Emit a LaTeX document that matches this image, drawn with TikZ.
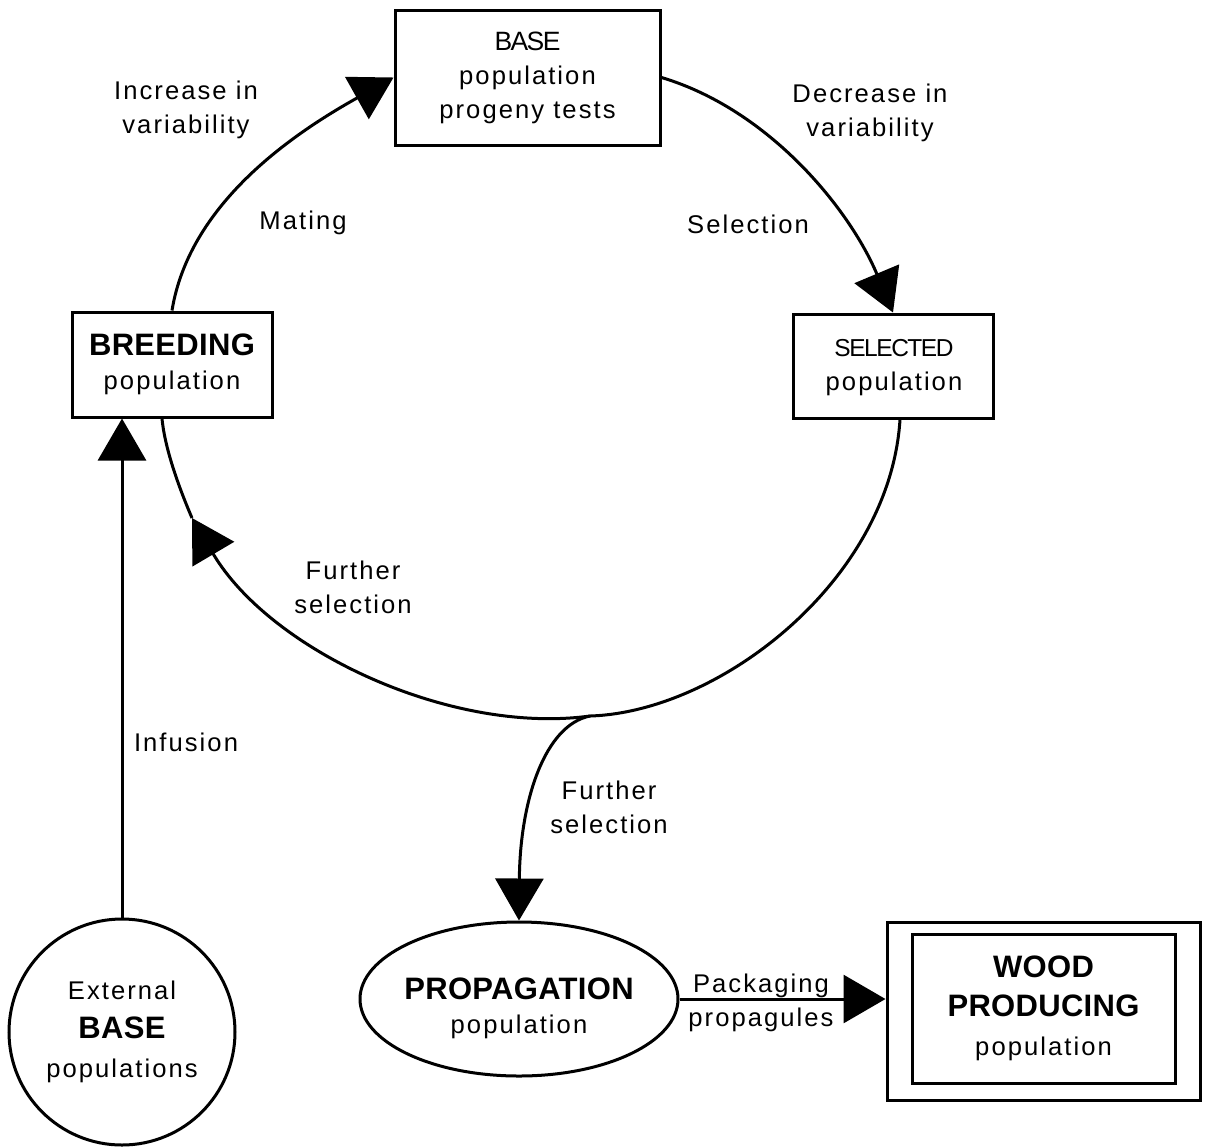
\documentclass[tikz,border=0pt]{standalone}
\usepackage{fontspec}
\setmainfont{Liberation Sans}[LetterSpace=8]
\newfontfamily\heavy{Liberation Sans}[LetterSpace=1]
\newfontfamily\tight{Liberation Sans}[LetterSpace=-6]
\usetikzlibrary{arrows.meta,shapes.geometric}

\newcommand\bigword[1]{{\heavy\bfseries\fontsize{31}{38}\selectfont #1}}
\newcommand\narrow[2][24.5]{{\tight\fontsize{#1}{34}\selectfont #2}}

\begin{document}
\begin{tikzpicture}[x=1pt,y=-1pt,
  every node/.style={font=\fontsize{25.6}{34}\selectfont, inner sep=0pt},
  box/.style={draw, line width=3pt, align=center},
  lab/.style={align=center},
  link/.style={line width=3pt},
  head/.style={-{Triangle[length=42pt,width=48pt]}},
]
\useasboundingbox (0,0) rectangle (1209,1146);

% population boxes
\node[box, minimum width=265pt, minimum height=135pt] (base) at (527.5,77.5)
  {\narrow[26.5]{BASE}\\population\\progeny tests};
\node[box, minimum width=200pt, minimum height=105pt] (breed) at (172,364.5)
  {\bigword{BREEDING}\\population};
\node[box, minimum width=200pt, minimum height=104pt] (sel) at (893,366) {};
\node[align=center] (seltext) at (894,368) {\narrow{SELECTED}\\population};
\node[draw, ellipse, line width=3pt, minimum width=318pt, minimum height=154pt] (prop) at (519,999) {};
\node[align=center] (proptext) at (519,1008) {\bigword{PROPAGATION}\\population};
\node[draw, circle, line width=3pt, minimum size=226pt, align=center, font=\fontsize{25.6}{39}\selectfont] (ext) at (122,1032)
  {External\\\bigword{BASE}\\populations};
\node[box, minimum width=313pt, minimum height=178pt] (woodframe) at (1043.5,1011) {};
\node[box, minimum width=263pt, minimum height=149pt, font=\fontsize{25.6}{39}\selectfont] (wood) at (1043.5,1008.5)
  {\bigword{WOOD}\\\bigword{PRODUCING}\\population};

% labels
\node[lab] (incr) at (186,110) {Increase in\\variability};
\node[lab] (decr) at (870,113) {Decrease in\\variability};
\node (mate) at (303,223) {Mating};
\node (selt) at (748,224) {Selection};
\node[lab] (furl) at (353,587) {Further\\selection};
\node (inf) at (186,742) {Infusion};
\node[lab] (furr) at (609,807) {Further\\selection};
\node[lab] (pack) at (761,1003) {Packaging\\propagules};

% breeding cycle
\coordinate (low) at (590,716);
\coordinate (tipL) at (192,518);
\draw[link, head] (breed.north) .. controls (190,200) and (300,130) .. (base.west);
\draw[link, head] (base.east) .. controls (770,110) and (850,210) .. (sel.north);
\draw[link] ([xshift=7pt]sel.south) .. controls (890,580) and (720,712) .. (low);
\draw[link, head] (low) .. controls (450,735) and (270,650) .. (tipL);
\draw[link] (tipL) .. controls (180,490) and (165,450) .. ([xshift=-10pt]breed.south);

% branches
\draw[link, head] (low) .. controls (545,725) and (520,800) .. (prop.north);
\draw[link, head] (ext.north) -- (ext.north |- breed.south);
\draw[link, head] (prop.east) -- (prop.east -| woodframe.west);
\end{tikzpicture}
\end{document}
